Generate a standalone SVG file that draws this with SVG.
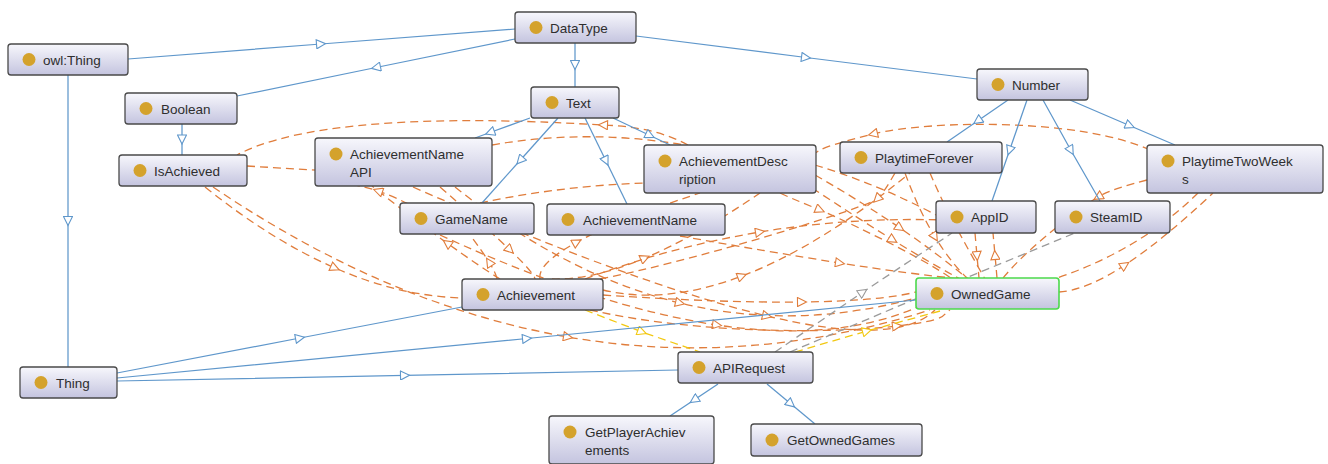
<svg xmlns="http://www.w3.org/2000/svg" width="1328" height="464" viewBox="0 0 1328 464">
<style>
.nb{fill:url(#ng);stroke:#4a4a4a;stroke-width:1.3}
.sel{stroke:#4cd94c;stroke-width:1.6}
.dot{fill:#d4a22c}
.lb{font-family:"Liberation Sans",Arial,sans-serif;font-size:13.5px;fill:#2e2e2e}
.isa{fill:none;stroke:#5f97cb;stroke-width:1.25;marker-mid:url(#ab)}
.op{fill:none;stroke:#e07d3c;stroke-width:1.3;stroke-dasharray:8 5;marker-mid:url(#ao)}
.gy{fill:none;stroke:#9a9a9a;stroke-width:1.3;stroke-dasharray:8 5;marker-mid:url(#ag)}
.yl{fill:none;stroke:#f2c811;stroke-width:1.3;stroke-dasharray:8 5;marker-mid:url(#ay)}
</style>
<defs>
<linearGradient id="ng" x1="0" y1="0" x2="0" y2="1">
<stop offset="0" stop-color="#f7f7fc"/>
<stop offset="1" stop-color="#c4c4df"/>
</linearGradient>
<marker id="ab" viewBox="0 0 10 10" refX="5" refY="5" markerWidth="12" markerHeight="10" markerUnits="userSpaceOnUse" orient="auto"><path d="M0.5,0.5 L9.5,5 L0.5,9.5 z" fill="#fff" stroke="#5f97cb" stroke-width="1.1"/></marker>
<marker id="ao" viewBox="0 0 10 10" refX="5" refY="5" markerWidth="12" markerHeight="10" markerUnits="userSpaceOnUse" orient="auto"><path d="M0.5,0.5 L9.5,5 L0.5,9.5 z" fill="#fff" stroke="#e07d3c" stroke-width="1.1"/></marker>
<marker id="ag" viewBox="0 0 10 10" refX="5" refY="5" markerWidth="12" markerHeight="10" markerUnits="userSpaceOnUse" orient="auto"><path d="M0.5,0.5 L9.5,5 L0.5,9.5 z" fill="#fff" stroke="#9a9a9a" stroke-width="1.1"/></marker>
<marker id="ay" viewBox="0 0 10 10" refX="5" refY="5" markerWidth="12" markerHeight="10" markerUnits="userSpaceOnUse" orient="auto"><path d="M0.5,0.5 L9.5,5 L0.5,9.5 z" fill="#fff" stroke="#f2c811" stroke-width="1.1"/></marker>
</defs>
<rect width="1328" height="464" fill="#fff"/>
<g id="connectors">
<path class="op" d="M205,187 Q271,240 335,268 T462,298"/>
<path class="op" d="M213,187 Q389,306 568,337 T930,310"/>
<path class="op" d="M688,145 C660,130 630,126 603,125 C576,124 330,105 237,155"/>
<path class="op" d="M1150,150 C1080,118 930,120 873,134 S820,151 815,153"/>
<path class="op" d="M492,145 Q590,128 690,146"/>
<path class="op" d="M247,166 L330,171"/>
<path class="op" d="M500,279 Q479,266 447,243 T372,186"/>
<path class="op" d="M420,210 Q398,198 378,191 T340,184"/>
<path class="op" d="M497,279 Q496,273 489,262 T470,235"/>
<path class="op" d="M440,187 Q486,227 510,250 T535,279"/>
<path class="op" d="M540,279 Q537,264 577,242 T700,193"/>
<path class="op" d="M552,279 Q593,280 645,258 T760,193"/>
<path class="op" d="M603,290 Q665,305 742,276 T910,173"/>
<path class="op" d="M603,295 Q724,303 802,302 T916,292"/>
<path class="op" d="M455,187 Q565,275 680,303 T916,298"/>
<path class="op" d="M440,235 Q597,307 717,325 T920,306"/>
<path class="op" d="M413,187 Q637,285 767,316 T935,310"/>
<path class="op" d="M680,236 Q770,252 840,263 T962,279"/>
<path class="op" d="M590,310 C700,335 840,333 897,326 S940,315 950,310"/>
<path class="op" d="M585,279 Q670,247 760,232 T945,220"/>
<path class="op" d="M895,173 C888,185 884,192 877,199 S700,260 595,280"/>
<path class="op" d="M815,175 Q862,202 900,228 T968,279"/>
<path class="op" d="M812,188 Q856,217 893,240 T962,280"/>
<path class="op" d="M780,193 C795,200 808,205 820,210 S920,255 955,281"/>
<path class="op" d="M905,173 Q919,211 935,237 T968,279"/>
<path class="op" d="M930,173 Q941,199 955,225 T985,279"/>
<path class="op" d="M975,233 L977,256 L979,278"/>
<path class="op" d="M997,278 L995,255 L993,233"/>
<path class="op" d="M1147,180 C1125,186 1110,190 1098,197 S1030,245 1003,278"/>
<path class="op" d="M1198,193 Q1140,250 1057,278"/>
<path class="op" d="M1059,292 Q1087,290 1125,265 T1213,193"/>
<path class="op" d="M480,203 Q560,186 644,183"/>
<path class="op" d="M815,165 Q880,185 936,215"/>
<path class="gy" d="M775,352 L863,292 L952,233"/>
<path class="gy" d="M790,352 L932,292 L1075,233"/>
<path class="yl" d="M585,310 L642,332 L700,352"/>
<path class="yl" d="M795,352 L867,331 L940,311"/>
<path class="isa" d="M128,59 L321,44 L515,29"/>
<path class="isa" d="M515,39 L376,67.5 L237,96"/>
<path class="isa" d="M575,43 L575,65 L575,87"/>
<path class="isa" d="M636,36 L806,57.5 L977,79"/>
<path class="isa" d="M182,124 L182,139.5 L182,155"/>
<path class="isa" d="M68,75 L68,221 L68,367"/>
<path class="isa" d="M530,118 L490,132.5 L475,138"/>
<path class="isa" d="M558,118 L520,160.5 L482,203"/>
<path class="isa" d="M585,118 L606,161 L627,204"/>
<path class="isa" d="M613,118 L650,135.5 L670,145"/>
<path class="isa" d="M1008,100 L977.5,121 L947,142"/>
<path class="isa" d="M1027,100 L1009.5,150.5 L992,201"/>
<path class="isa" d="M1043,100 L1071,150.5 L1100,201"/>
<path class="isa" d="M1070,100 L1130,125.7 L1175,145"/>
<path class="isa" d="M117,373 L300,338 L462,307"/>
<path class="isa" d="M117,378 L527,338.5 L916,300"/>
<path class="isa" d="M117,381 L405,375.4 L678,370"/>
<path class="isa" d="M718,384 L694,400 L670,416"/>
<path class="isa" d="M767,384 L791,404 L815,424"/>
</g>
<g id="n-DataType"><rect class="nb" x="515" y="12" width="121" height="31" rx="3"/><circle class="dot" cx="536" cy="27.5" r="6.5"/><text class="lb" x="550" y="32.5">DataType</text></g>
<g id="n-owlThing"><rect class="nb" x="8" y="44" width="120" height="31" rx="3"/><circle class="dot" cx="29" cy="59.5" r="6.5"/><text class="lb" x="43" y="64.5">owl:Thing</text></g>
<g id="n-Boolean"><rect class="nb" x="125" y="93" width="112" height="31" rx="3"/><circle class="dot" cx="146" cy="108.5" r="6.5"/><text class="lb" x="161" y="113.5">Boolean</text></g>
<g id="n-IsAchieved"><rect class="nb" x="119" y="155" width="128" height="31" rx="3"/><circle class="dot" cx="140" cy="170.5" r="6.5"/><text class="lb" x="154" y="175.5">IsAchieved</text></g>
<g id="n-AchievementNameAPI"><rect class="nb" x="315" y="138" width="177" height="48" rx="3"/><circle class="dot" cx="336" cy="154" r="6.5"/><text class="lb" x="350" y="159">AchievementName</text><text class="lb" x="350" y="177">API</text></g>
<g id="n-Text"><rect class="nb" x="531" y="87" width="88" height="31" rx="3"/><circle class="dot" cx="552" cy="102.5" r="6.5"/><text class="lb" x="566" y="107.5">Text</text></g>
<g id="n-AchievementDescription"><rect class="nb" x="644" y="145" width="172" height="48" rx="3"/><circle class="dot" cx="665" cy="161" r="6.5"/><text class="lb" x="679" y="166">AchievementDesc</text><text class="lb" x="679" y="184">ription</text></g>
<g id="n-PlaytimeForever"><rect class="nb" x="840" y="142" width="162" height="31" rx="3"/><circle class="dot" cx="861" cy="157.5" r="6.5"/><text class="lb" x="875" y="162.5">PlaytimeForever</text></g>
<g id="n-Number"><rect class="nb" x="977" y="69" width="111" height="31" rx="3"/><circle class="dot" cx="998" cy="84.5" r="6.5"/><text class="lb" x="1012" y="89.5">Number</text></g>
<g id="n-PlaytimeTwoWeeks"><rect class="nb" x="1147" y="145" width="176" height="48" rx="3"/><circle class="dot" cx="1168" cy="161" r="6.5"/><text class="lb" x="1182" y="166">PlaytimeTwoWeek</text><text class="lb" x="1182" y="184">s</text></g>
<g id="n-GameName"><rect class="nb" x="400" y="203" width="134" height="31" rx="3"/><circle class="dot" cx="421" cy="218.5" r="6.5"/><text class="lb" x="435" y="223.5">GameName</text></g>
<g id="n-AchievementName"><rect class="nb" x="547" y="204" width="178" height="31" rx="3"/><circle class="dot" cx="568" cy="219.5" r="6.5"/><text class="lb" x="583" y="224.5">AchievementName</text></g>
<g id="n-AppID"><rect class="nb" x="936" y="201" width="100" height="32" rx="3"/><circle class="dot" cx="957" cy="217" r="6.5"/><text class="lb" x="971" y="222">AppID</text></g>
<g id="n-SteamID"><rect class="nb" x="1055" y="201" width="115" height="32" rx="3"/><circle class="dot" cx="1076" cy="217" r="6.5"/><text class="lb" x="1090" y="222">SteamID</text></g>
<g id="n-Achievement"><rect class="nb" x="462" y="279" width="141" height="31" rx="3"/><circle class="dot" cx="483" cy="294.5" r="6.5"/><text class="lb" x="497" y="299.5">Achievement</text></g>
<g id="n-OwnedGame"><rect class="nb sel" x="916" y="278" width="143" height="31" rx="3"/><circle class="dot" cx="937" cy="293.5" r="6.5"/><text class="lb" x="951" y="298.5">OwnedGame</text></g>
<g id="n-Thing"><rect class="nb" x="20" y="367" width="97" height="31" rx="3"/><circle class="dot" cx="41" cy="382.5" r="6.5"/><text class="lb" x="56" y="387.5">Thing</text></g>
<g id="n-APIRequest"><rect class="nb" x="678" y="352" width="135" height="31" rx="3"/><circle class="dot" cx="699" cy="367.5" r="6.5"/><text class="lb" x="713" y="372.5">APIRequest</text></g>
<g id="n-GetPlayerAchievements"><rect class="nb" x="549" y="416" width="165" height="48" rx="3"/><circle class="dot" cx="570" cy="432" r="6.5"/><text class="lb" x="585" y="437">GetPlayerAchiev</text><text class="lb" x="585" y="455">ements</text></g>
<g id="n-GetOwnedGames"><rect class="nb" x="751" y="424" width="171" height="32" rx="3"/><circle class="dot" cx="772" cy="440" r="6.5"/><text class="lb" x="787" y="445">GetOwnedGames</text></g>
</svg>
